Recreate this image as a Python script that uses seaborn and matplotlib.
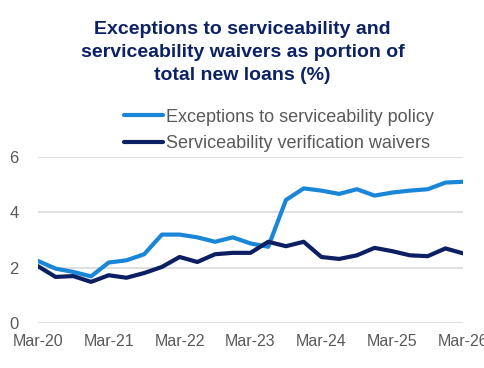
#!/usr/bin/env python3

# Import libraries
import pandas as pd
import matplotlib.pyplot as plt
import seaborn as sns

# Data (quarterly, Mar-20 .. Mar-26)
quarters = ["Mar-20", "Jun-20", "Sep-20", "Dec-20",
            "Mar-21", "Jun-21", "Sep-21", "Dec-21",
            "Mar-22", "Jun-22", "Sep-22", "Dec-22",
            "Mar-23", "Jun-23", "Sep-23", "Dec-23",
            "Mar-24", "Jun-24", "Sep-24", "Dec-24",
            "Mar-25", "Jun-25", "Sep-25", "Dec-25",
            "Mar-26"]
exceptions = [2.25, 1.97, 1.85, 1.69, 2.19, 2.27, 2.49, 3.20, 3.20, 3.10,
              2.94, 3.10, 2.88, 2.76, 4.45, 4.87, 4.79, 4.67, 4.84, 4.61,
              4.72, 4.79, 4.84, 5.08, 5.11]
waivers = [2.06, 1.67, 1.70, 1.49, 1.73, 1.64, 1.81, 2.03, 2.39, 2.21,
           2.49, 2.54, 2.54, 2.94, 2.78, 2.94, 2.39, 2.32, 2.45, 2.72,
           2.60, 2.45, 2.42, 2.70, 2.52]
series_names = ["Exceptions to serviceability policy",
                "Serviceability verification waivers"]
tick_labels = ["Mar-20", "Mar-21", "Mar-22", "Mar-23", "Mar-24", "Mar-25", "Mar-26"]

# Build long-form table
df = pd.DataFrame({
    "t": list(range(len(quarters))) * 2,
    "value": exceptions + waivers,
    "series": [series_names[0]] * len(quarters) + [series_names[1]] * len(quarters),
})

sns.set_style("white")
plt.rcParams["font.family"] = ["Liberation Sans", "DejaVu Sans"]

fig = plt.figure(figsize=(4.85, 3.68), dpi=100)
ax = fig.add_axes([0.078, 0.122, 0.877, 0.451])

palette = {series_names[0]: "#1a86d8", series_names[1]: "#0c1f63"}
sns.lineplot(data=df, x="t", y="value", hue="series", palette=palette,
             linewidth=3.0, ax=ax, legend=True)

# Axes styling
ax.set_xlim(0, len(quarters) - 1)
ax.set_ylim(0, 6)
ax.set_yticks([0, 2, 4, 6])
ax.set_xticks(list(range(0, len(quarters), 4)))
ax.set_xticklabels(tick_labels)
ax.set_xlabel("")
ax.set_ylabel("")
ax.grid(axis="y", color="#d9d9d9", linewidth=1.2)
ax.set_axisbelow(True)
for s in ax.spines.values():
    s.set_visible(False)
ax.tick_params(axis="x", length=0, labelsize=11.5, labelcolor="#595959", pad=8)
ax.tick_params(axis="y", length=0, labelsize=12, labelcolor="#595959", pad=14)

# Legend above the plot
handles, labels = ax.get_legend_handles_labels()
ax.get_legend().remove()
fig.legend(handles, labels, loc="upper left", bbox_to_anchor=(0.255, 0.705),
           frameon=False, fontsize=13, labelcolor="#595959",
           handlelength=2.2, handletextpad=0.15, labelspacing=0.55,
           borderpad=0, borderaxespad=0)

# Title
fig.text(0.5, 0.944, "Exceptions to serviceability and\nserviceability waivers as portion of\ntotal new loans (%)",
         ha="center", va="top", fontsize=14, fontweight="bold", color="#0c2264",
         linespacing=1.48)

fig.savefig("out.png", dpi=100)
